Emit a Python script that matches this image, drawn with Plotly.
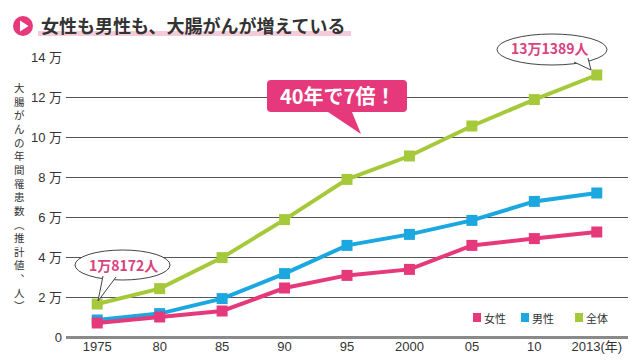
import plotly.graph_objects as go

# ---- data (units: 万人) ----
years = ["1975", "80", "85", "90", "95", "2000", "05", "10", "2013(年)"]
total = [1.65, 2.42, 3.97, 5.87, 7.88, 9.05, 10.55, 11.87, 13.1]
male = [0.85, 1.17, 1.92, 3.17, 4.58, 5.13, 5.83, 6.78, 7.2]
female = [0.70, 1.00, 1.30, 2.45, 3.08, 3.38, 4.58, 4.92, 5.25]
series_names = ["男性", "女性", "全体"]
y_tick_vals = [0, 2, 4, 6, 8, 10, 12, 14]
y_tick_text = ["0", "2 万", "4 万", "6 万", "8 万", "10 万", "12 万", "14 万"]

PINK = "#e5397c"
BLUE = "#1ba7df"
GREEN = "#a6c93b"
CJK = "Noto Sans CJK JP"
NUM = "Liberation Sans, Arial, Noto Sans CJK JP"

# page has an 8px body margin; figure is sized to fit the 640x362 window
OFF = 8
W, H = 640 - OFF, 362 - OFF
PL, PR, PT, PB = 66, 628, 57, 337          # plot area in window pixels
ML, MR, MT, MB = PL - OFF, 640 - PR, PT - OFF, 362 - PB


def px(x):
    return (x - PL) / (PR - PL)


def py(y):
    return (PB - y) / (PB - PT)


fig = go.Figure()
for name, vals, col in [(series_names[0], male, BLUE), (series_names[1], female, PINK), (series_names[2], total, GREEN)]:
    fig.add_trace(go.Scatter(
        x=years, y=vals, name=name, mode="lines+markers",
        line=dict(color=col, width=4),
        marker=dict(symbol="square", size=11, color=col),
        showlegend=False, hoverinfo="skip",
    ))

shapes = []
annotations = []

# title
shapes.append(dict(type="rect", xref="paper", yref="paper", x0=px(38), x1=px(351), y0=py(36), y1=py(31),
                   fillcolor="#f6cbd9", line=dict(width=0), layer="below"))
shapes.append(dict(type="circle", xref="paper", yref="paper", x0=px(13), x1=px(33), y0=py(36), y1=py(16),
                   fillcolor=PINK, line=dict(width=0)))
shapes.append(dict(type="path", xref="paper", yref="paper",
                   path=f"M {px(20)} {py(20.5)} L {px(28.5)} {py(26)} L {px(20)} {py(31.5)} Z",
                   fillcolor="white", line=dict(width=0)))
annotations.append(dict(text="<b>女性も男性も、大腸がんが増えている</b>", xref="paper", yref="paper",
                        x=px(39), y=py(25), xanchor="left", yanchor="middle", showarrow=False,
                        font=dict(family=CJK, size=18, color="#333333")))

# vertical y-axis title (one character per line)
ylabel = "大腸がんの年間罹患数︵推計値︑人︶"
annotations.append(dict(text="<br>".join(ylabel), xref="paper", yref="paper", x=px(19), y=py(196),
                        xanchor="center", yanchor="middle", showarrow=False, align="center",
                        font=dict(family=CJK, size=10.5, color="#333333")))

# speech bubble 1 (1975)
shapes.append(dict(type="circle", xref="paper", yref="paper", x0=px(75), x1=px(170), y0=py(280), y1=py(250),
                   fillcolor="white", line=dict(color="#444444", width=1)))
shapes.append(dict(type="path", xref="paper", yref="paper",
                   path=f"M {px(103)} {py(276)} L {px(98)} {py(301)} L {px(116)} {py(277)}",
                   fillcolor="white", line=dict(color="#444444", width=1)))
annotations.append(dict(text="<b>1万8172人</b>", xref="paper", yref="paper", x=px(123), y=py(265),
                        xanchor="center", yanchor="middle", showarrow=False,
                        font=dict(family=CJK, size=14, color="#d8437f")))

# speech bubble 2 (2013)
shapes.append(dict(type="circle", xref="paper", yref="paper", x0=px(497), x1=px(607), y0=py(65), y1=py(34),
                   fillcolor="white", line=dict(color="#444444", width=1)))
shapes.append(dict(type="path", xref="paper", yref="paper",
                   path=f"M {px(574)} {py(62)} L {px(591)} {py(70)} L {px(588)} {py(58)}",
                   fillcolor="white", line=dict(color="#444444", width=1)))
annotations.append(dict(text="<b>13万1389人</b>", xref="paper", yref="paper", x=px(550), y=py(48),
                        xanchor="center", yanchor="middle", showarrow=False,
                        font=dict(family=CJK, size=14, color="#d8437f")))

# pink callout
x0, x1, y0, y1, r = 267, 407, 80, 112, 4
p = (f"M {px(x0 + r)} {py(y0)} L {px(x1 - r)} {py(y0)} Q {px(x1)} {py(y0)} {px(x1)} {py(y0 + r)} "
     f"L {px(x1)} {py(y1 - r)} Q {px(x1)} {py(y1)} {px(x1 - r)} {py(y1)} "
     f"L {px(352)} {py(y1)} L {px(361)} {py(134)} L {px(328)} {py(y1)} "
     f"L {px(x0 + r)} {py(y1)} Q {px(x0)} {py(y1)} {px(x0)} {py(y1 - r)} "
     f"L {px(x0)} {py(y0 + r)} Q {px(x0)} {py(y0)} {px(x0 + r)} {py(y0)} Z")
shapes.append(dict(type="path", xref="paper", yref="paper", path=p, fillcolor=PINK, line=dict(width=0)))
annotations.append(dict(text="<b>40年で7倍！</b>", xref="paper", yref="paper", x=px(337), y=py(96),
                        xanchor="center", yanchor="middle", showarrow=False,
                        font=dict(family=CJK, size=20, color="white")))

# legend (manual)
for lx, col, name in [(473, PINK, "女性"), (521, BLUE, "男性"), (575, GREEN, "全体")]:
    shapes.append(dict(type="rect", xref="paper", yref="paper", x0=px(lx), x1=px(lx + 8), y0=py(322), y1=py(313),
                       fillcolor=col, line=dict(width=0)))
    annotations.append(dict(text=name, xref="paper", yref="paper", x=px(lx + 9), y=py(317.5),
                            xanchor="left", yanchor="middle", showarrow=False,
                            font=dict(family=CJK, size=11, color="#333333")))

fig.update_layout(
    width=W, height=H,
    margin=dict(l=ML, r=MR, t=MT, b=MB),
    paper_bgcolor="white", plot_bgcolor="white",
    shapes=shapes, annotations=annotations,
    xaxis=dict(type="category", range=[-0.5, 8.5], showgrid=False, zeroline=False,
               showline=False, ticks="", automargin=False,
               tickfont=dict(family=NUM, size=13, color="#333333")),
    yaxis=dict(range=[0, 14], tickvals=y_tick_vals, ticktext=y_tick_text,
               showgrid=True, gridcolor="#555555", gridwidth=1.2,
               zeroline=True, zerolinecolor="#8a8a8a", zerolinewidth=2.5,
               showline=False, ticks="", ticklabelstandoff=3, automargin=False,
               tickfont=dict(family=NUM, size=13, color="#333333")),
)

fig.write_html("out.html")
